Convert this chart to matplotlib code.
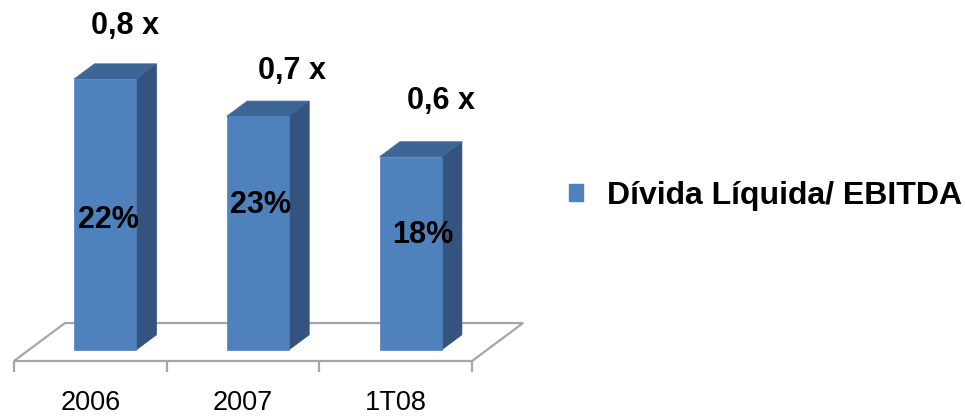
import matplotlib
matplotlib.use("Agg")
import matplotlib.pyplot as plt
from matplotlib.patches import Polygon, Patch

plt.rcParams['font.family'] = ['Liberation Sans', 'DejaVu Sans']

# ---- data ----
categories = ["2006", "2007", "1T08"]
ratio_values = [0.80, 0.69, 0.57]          # Dívida Líquida / EBITDA
ratio_labels = ["0,8 x", "0,7 x", "0,6 x"]
pct_labels = ["22%", "23%", "18%"]
series_name = "Dívida Líquida/ EBITDA"

# ---- styles / layout ----
W, H, DPI = 965, 416, 100
FRONT = "#4F81BD"
TOP = "#3D6696"
SIDE = "#34547F"
FLOOR = "#A6A6A6"
bar_w = 0.406
DX, DY = 0.334, 0.112          # projection of unit depth (x in categories, y in values)
d0, d1 = 0.29, 0.69            # bar depth range inside the floor
top_offsets = [(20, 53), (34, 45), (30, 56)]     # pixels from front-top centre
pct_offsets = [(3, 130), (3, 145), (12, 115)]    # pixels from front-bottom centre

fig = plt.figure(figsize=(W / DPI, H / DPI), dpi=DPI)
ax = fig.add_axes([0, 0, 1, 1])
ax.set_xlim(-0.5914, 5.728)
ax.set_ylim(-0.1624, 1.0657)
ax.axis("off")


def P(x, y, d):
    return (x + d * DX, y + d * DY)


# floor
n = len(categories)
floor = Polygon([P(-0.5, 0, 0), P(n - 0.5, 0, 0), P(n - 0.5, 0, 1), P(-0.5, 0, 1)],
                closed=True, facecolor="white", edgecolor=FLOOR, lw=1.6, zorder=1)
ax.add_patch(floor)
tick_len = 11 / 338.75
ax.vlines([i - 0.5 for i in range(n + 1)], -tick_len, 0, colors=FLOOR, lw=1.6, zorder=1)

for i, (cat, v) in enumerate(zip(categories, ratio_values)):
    xl, xr = i - bar_w / 2, i + bar_w / 2
    front = [P(xl, 0, d0), P(xr, 0, d0), P(xr, v, d0), P(xl, v, d0)]
    side = [P(xr, 0, d0), P(xr, 0, d1), P(xr, v, d1), P(xr, v, d0)]
    top = [P(xl, v, d0), P(xr, v, d0), P(xr, v, d1), P(xl, v, d1)]
    ax.add_patch(Polygon(side, closed=True, facecolor=SIDE, edgecolor=SIDE, lw=0.5, zorder=2))
    ax.add_patch(Polygon(top, closed=True, facecolor=TOP, edgecolor=TOP, lw=0.5, zorder=2))
    ax.add_patch(Polygon(front, closed=True, facecolor=FRONT, edgecolor=FRONT, lw=0.5, zorder=3))

    # category label
    ax.annotate(cat, xy=(i, 0), xytext=(0, -49), textcoords="offset pixels",
                ha="center", va="baseline", fontsize=19.5, color="black")
    # ratio label above
    fx, fy = P(i, v, d0)
    ox, oy = top_offsets[i]
    ax.annotate(ratio_labels[i], xy=(fx, fy), xytext=(ox, oy), textcoords="offset pixels",
                ha="center", va="center", fontsize=22, fontweight="bold", color="black", zorder=5)
    # percentage label inside
    bx, by = P(i, 0, d0)
    px, py = pct_offsets[i]
    ax.annotate(pct_labels[i], xy=(bx, by), xytext=(px, py), textcoords="offset pixels",
                ha="center", va="center", fontsize=22, fontweight="bold", color="black", zorder=5)

handle = Patch(facecolor=FRONT, edgecolor=FRONT)
leg = fig.legend([handle], [series_name], loc="center left",
                 bbox_to_anchor=(569 / W, 1 - 196 / H), frameon=False,
                 borderpad=0, borderaxespad=0, handlelength=0.44, handleheight=0.44,
                 handletextpad=0.75, prop={"size": 23, "weight": "bold"})

fig.savefig("out.png", dpi=DPI)
